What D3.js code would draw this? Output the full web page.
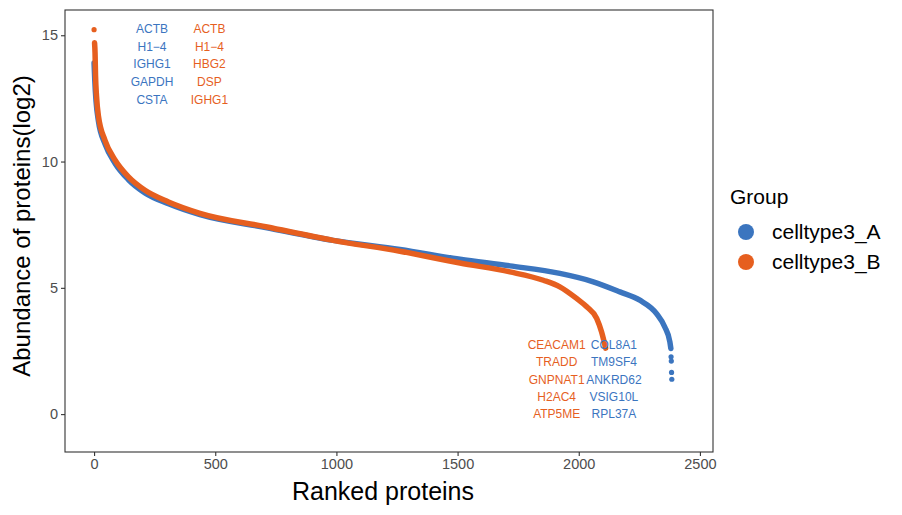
<!DOCTYPE html>
<html>
<head>
<meta charset="utf-8">
<script src="https://cdn.jsdelivr.net/npm/d3@7"></script>
<style>
  body { margin: 0; background: #fff; }
  text { font-family: "Liberation Sans", Arial, Helvetica, sans-serif; }
</style>
</head>
<body>
<svg id="chart"></svg>
<script>
// ranked abundance (rank, log2 value)
var rankA = [0, 3, 8, 18, 45, 87, 142, 210, 307, 437, 714, 986, 1262, 1510, 1716, 1922, 2060, 2170, 2252, 2321, 2355, 2376, 2380];
var valA  = [13.9, 13.2, 12.4, 11.6, 10.7, 9.92, 9.28, 8.76, 8.33, 7.9, 7.38, 6.88, 6.52, 6.13, 5.87, 5.57, 5.24, 4.84, 4.51, 3.98, 3.45, 2.86, 2.6];
var tailRankA = [2381, 2382, 2383, 2384];
var tailValA  = [2.27, 2.1, 1.65, 1.38];

var rankB = [2, 4, 6, 10, 18, 45, 87, 142, 210, 307, 437, 714, 986, 1262, 1510, 1716, 1854, 1922, 1991, 2033, 2074, 2094, 2111];
var valB  = [14.7, 14.3, 13.4, 12.6, 11.8, 10.84, 10.05, 9.39, 8.86, 8.4, 7.95, 7.41, 6.88, 6.45, 5.98, 5.63, 5.3, 5.04, 4.58, 4.25, 3.79, 3.26, 2.61];
var headRankB = [0];
var headValB  = [15.22];

var groups = ["celltype3_A", "celltype3_B"];
var colors = ["#3b75bf", "#e65f1f"];

// labelled proteins
var topLabelsA = ["ACTB", "H1\u22124", "IGHG1", "GAPDH", "CSTA"];
var topLabelsB = ["ACTB", "H1\u22124", "HBG2", "DSP", "IGHG1"];
var topLabelY = [15.24, 14.55, 13.86, 13.16, 12.46];
var topLabelRankA = 239, topLabelRankB = 476;

var botLabelsA = ["COL8A1", "TM9SF4", "ANKRD62", "VSIG10L", "RPL37A"];
var botLabelsB = ["CEACAM1", "TRADD", "GNPNAT1", "H2AC4", "ATP5ME"];
var botLabelY = [2.73, 2.06, 1.36, 0.67, 0.0];
var botLabelRankA = 2145, botLabelRankB = 1909;

var xTicks = [0, 500, 1000, 1500, 2000, 2500];
var yTicks = [0, 5, 10, 15];

var svg = d3.select("#chart")
            .attr("width", 902)
            .attr("height", 515);

var panel = {left: 65, right: 713, top: 10, bottom: 452};

var xScale = d3.scaleLinear()
               .domain([-120, 2554])
               .range([panel.left, panel.right]);

var yScale = d3.scaleLinear()
               .domain([-1.5, 16])
               .range([panel.bottom, panel.top]);

// axes
var xAxis = d3.axisBottom(xScale).tickValues(xTicks).tickFormat(d3.format("d"))
              .tickSize(4).tickPadding(3);
var yAxis = d3.axisLeft(yScale).tickValues(yTicks).tickFormat(d3.format("d"))
              .tickSize(4).tickPadding(3);

var gx = svg.append("g")
   .attr("transform", "translate(0," + panel.bottom + ")")
   .call(xAxis);
var gy = svg.append("g")
   .attr("transform", "translate(" + panel.left + ",0)")
   .call(yAxis);

[gx, gy].forEach(function(g) {
  g.select(".domain").remove();
  g.selectAll(".tick line").attr("stroke", "#333").attr("stroke-width", 1.1);
  g.selectAll(".tick text")
   .attr("fill", "#4d4d4d")
   .style("font-size", "14.5px")
   .style("font-family", "Liberation Sans, Arial, sans-serif");
});

// curves: dense dots drawn as a thick line through the read points
var line = d3.line()
             .x(function(d) { return xScale(d[0]); })
             .y(function(d) { return yScale(d[1]); })
             .curve(d3.curveMonotoneX);

var seriesA = d3.zip(rankA, valA);
var seriesB = d3.zip(rankB, valB);

svg.append("path")
   .datum(seriesA)
   .attr("d", line)
   .attr("fill", "none")
   .attr("stroke", colors[0])
   .attr("stroke-width", 5.5)
   .attr("stroke-linecap", "round")
   .attr("stroke-linejoin", "round");

svg.selectAll(".tailA")
   .data(d3.zip(tailRankA, tailValA))
   .enter()
   .append("circle")
   .attr("cx", function(d) { return xScale(d[0]); })
   .attr("cy", function(d) { return yScale(d[1]); })
   .attr("r", 2.6)
   .attr("fill", colors[0]);

svg.append("path")
   .datum(seriesB)
   .attr("d", line)
   .attr("fill", "none")
   .attr("stroke", colors[1])
   .attr("stroke-width", 5.5)
   .attr("stroke-linecap", "round")
   .attr("stroke-linejoin", "round");

svg.selectAll(".headB")
   .data(d3.zip(headRankB, headValB))
   .enter()
   .append("circle")
   .attr("cx", function(d) { return xScale(d[0]); })
   .attr("cy", function(d) { return yScale(d[1]); })
   .attr("r", 2.6)
   .attr("fill", colors[1]);

// protein labels
var drawLabels = function(names, rank, ys, color)
{
  svg.selectAll(null)
     .data(names)
     .enter()
     .append("text")
     .attr("x", xScale(rank))
     .attr("y", function(d, i) { return yScale(ys[i]); })
     .attr("dy", "0.35em")
     .attr("text-anchor", "middle")
     .attr("fill", color)
     .style("font-size", "12px")
     .text(function(d) { return d; });
}
drawLabels(topLabelsA, topLabelRankA, topLabelY, colors[0]);
drawLabels(topLabelsB, topLabelRankB, topLabelY, colors[1]);
drawLabels(botLabelsB, botLabelRankB, botLabelY, colors[1]);
drawLabels(botLabelsA, botLabelRankA, botLabelY, colors[0]);

// panel border
svg.append("rect")
   .attr("x", panel.left)
   .attr("y", panel.top)
   .attr("width", panel.right - panel.left)
   .attr("height", panel.bottom - panel.top)
   .attr("fill", "none")
   .attr("stroke", "#333")
   .attr("stroke-width", 1.1);

// axis titles
svg.append("text")
   .attr("x", (panel.left + panel.right) / 2 - 6)
   .attr("y", 500)
   .attr("text-anchor", "middle")
   .style("font-size", "25px")
   .text("Ranked proteins");

svg.append("text")
   .attr("transform", "translate(30," + ((panel.top + panel.bottom) / 2 - 5) + ") rotate(-90)")
   .attr("text-anchor", "middle")
   .style("font-size", "24px")
   .text("Abundance of proteins(log2)");

// legend
var legend = svg.append("g").attr("transform", "translate(730,0)");
legend.append("text")
      .attr("x", 0)
      .attr("y", 204)
      .style("font-size", "21px")
      .text("Group");

legend.selectAll("circle")
      .data(groups)
      .enter()
      .append("circle")
      .attr("cx", 16)
      .attr("cy", function(d, i) { return 232 + i * 30; })
      .attr("r", 8)
      .attr("fill", function(d, i) { return colors[i]; });

legend.selectAll(".lab")
      .data(groups)
      .enter()
      .append("text")
      .attr("x", 42)
      .attr("y", function(d, i) { return 232 + i * 30; })
      .attr("dy", "0.35em")
      .style("font-size", "21px")
      .text(function(d) { return d; });
</script>
</body>
</html>
